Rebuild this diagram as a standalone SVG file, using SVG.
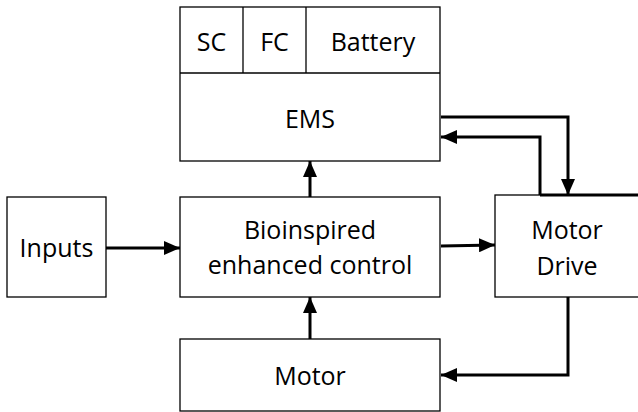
<svg xmlns="http://www.w3.org/2000/svg" width="638" height="412" viewBox="0 0 638 412">
<defs>
<marker id="ah" viewBox="0 0 16 14" refX="16" refY="7" markerWidth="16" markerHeight="14" markerUnits="userSpaceOnUse" orient="auto">
<path d="M0,0 L16,7 L0,14 Z" fill="#000"/>
</marker>
<style>
.box{fill:#fff;stroke:#000;stroke-width:1.3}
.t{font-family:"Open Sans","Liberation Sans",sans-serif;font-size:25px;fill:#000;text-anchor:middle}
.c{fill:none;stroke:#000;stroke-width:3}
</style>
</defs>
<rect width="638" height="412" fill="#fff"/>
<g id="ems">
<rect class="box" x="180" y="7" width="260" height="154"/>
<line x1="180" y1="73" x2="440" y2="73" stroke="#000" stroke-width="1.3"/>
<line x1="243" y1="7" x2="243" y2="73" stroke="#000" stroke-width="1.3"/>
<line x1="306" y1="7" x2="306" y2="73" stroke="#000" stroke-width="1.3"/>
<text class="t" x="211.5" y="51">SC</text>
<text class="t" x="274.5" y="51">FC</text>
<text class="t" x="373" y="51">Battery</text>
<text class="t" x="310" y="128">EMS</text>
</g>
<g id="inputs">
<rect class="box" x="7" y="197" width="99" height="100"/>
<text class="t" x="56.5" y="257">Inputs</text>
</g>
<g id="control">
<rect class="box" x="180" y="197" width="260" height="100"/>
<text class="t" x="310" y="239">Bioinspired</text>
<text class="t" x="310" y="274">enhanced control</text>
</g>
<g id="motordrive">
<rect class="box" x="495" y="195" width="160" height="102"/>
<text class="t" x="567" y="239">Motor</text>
<text class="t" x="567" y="275">Drive</text>
</g>
<g id="motor">
<rect class="box" x="180" y="339" width="260" height="72"/>
<text class="t" x="310" y="385">Motor</text>
</g>
<g id="connectors">
<line class="c" x1="106" y1="248" x2="180" y2="248" marker-end="url(#ah)"/>
<line class="c" x1="310" y1="197" x2="310" y2="161" marker-end="url(#ah)"/>
<line class="c" x1="310" y1="339" x2="310" y2="297" marker-end="url(#ah)"/>
<line class="c" x1="441" y1="246" x2="495" y2="245" marker-end="url(#ah)"/>
<polyline class="c" points="441,117 568,117 568,195" marker-end="url(#ah)"/>
<polyline class="c" points="540,195 540,137 441,137" marker-end="url(#ah)"/>
<line class="c" x1="540" y1="195" x2="638" y2="195"/>
<polyline class="c" points="568,297 568,375 441,375" marker-end="url(#ah)"/>
</g>
</svg>
